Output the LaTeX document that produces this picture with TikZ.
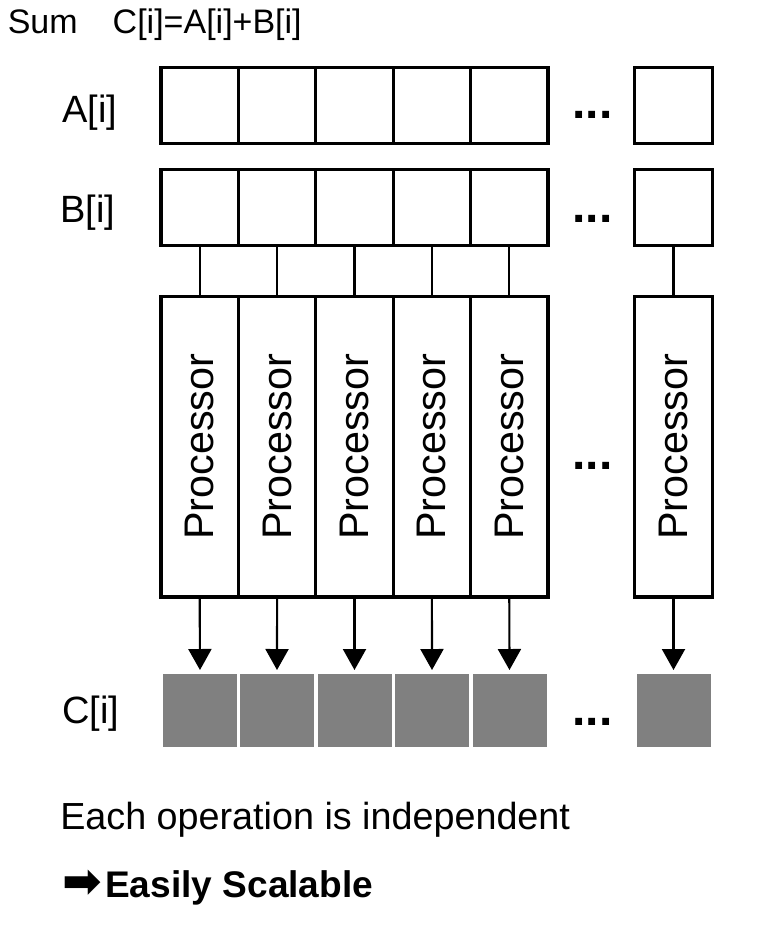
\documentclass[tikz,border=0pt]{standalone}
\usepackage{fontspec}
\setmainfont{Liberation Sans}
\newfontfamily\arrowfont{DejaVu Sans}
\usetikzlibrary{arrows.meta}

\begin{document}
\begin{tikzpicture}[x=0.75pt,y=0.75pt,yscale=-1,xscale=1,
		cell/.style={draw, line width=2.5pt, minimum width=58.05pt, minimum height=57pt, inner sep=0pt},
		proc/.style={cell, minimum height=225.4pt},
		ccell/.style={fill={rgb, 255:red, 128; green, 128; blue, 128 }, minimum width=55.5pt, minimum height=54.75pt, inner sep=0pt, outer sep=0pt},
		ptext/.style={rotate=90, inner sep=0pt, font=\fontsize{31}{36}\selectfont},
		wire/.style={line width=1.6pt},
		arr/.style={line width=1.6pt, -{Triangle[width=17.25pt,length=15.75pt]}, shorten >=3pt},
		lbl/.style={anchor=base west, inner sep=0pt, font=\fontsize{28.5}{34}\selectfont},
		dots/.style={anchor=base, inner sep=0pt, font=\fontsize{36}{44}\selectfont\bfseries}]
		\useasboundingbox (0,0) rectangle (758,932);
		\node [anchor=base west][inner sep=0pt][font=\fontsize{25.5}{30}\selectfont] (ttl) at (7.5,33) {Sum\hspace{26.3pt}C[i]=A[i]+B[i]};
		\node [lbl] (la) at (62,122) {A[i]};
		\node [lbl] (lb) at (60,222) {B[i]};
		\node [lbl] (lc) at (62,723) {C[i]};
		\node [cell] (a1) at (199.7,105.5) {};
		\node [cell] (a2) at (277.1,105.5) {};
		\node [cell] (a3) at (354.5,105.5) {};
		\node [cell] (a4) at (431.9,105.5) {};
		\node [cell] (a5) at (509.3,105.5) {};
		\node [cell] (an) at (673.5,105.5) {};
		\node [cell] (b1) at (199.7,207.5) {};
		\node [cell] (b2) at (277.1,207.5) {};
		\node [cell] (b3) at (354.5,207.5) {};
		\node [cell] (b4) at (431.9,207.5) {};
		\node [cell] (b5) at (509.3,207.5) {};
		\node [cell] (bn) at (673.5,207.5) {};
		\node [proc] (p1) at (199.7,446.75) {};
		\node [proc] (p2) at (277.1,446.75) {};
		\node [proc] (p3) at (354.5,446.75) {};
		\node [proc] (p4) at (431.9,446.75) {};
		\node [proc] (p5) at (509.3,446.75) {};
		\node [proc] (pn) at (673.5,446.75) {};
		\node [ptext] (pt1) at (p1) {Processor};
		\node [ptext] (pt2) at (p2) {Processor};
		\node [ptext] (pt3) at (p3) {Processor};
		\node [ptext] (pt4) at (p4) {Processor};
		\node [ptext] (pt5) at (p5) {Processor};
		\node [ptext] (ptn) at (pn) {Processor};
		\node [ccell] (c1) at (200,710.5) {};
		\node [ccell] (c2) at (277,710.5) {};
		\node [ccell] (c3) at (354.5,710.5) {};
		\node [ccell] (c4) at (432,710.5) {};
		\node [ccell] (c5) at (509.5,710.5) {};
		\node [ccell] (cn) at (673.5,710.5) {};
		\draw [wire] (b1.south) -- (p1.north);
		\draw [wire] (b2.south) -- (p2.north);
		\draw [wire] (b3.south) -- (p3.north);
		\draw [wire] (b4.south) -- (p4.north);
		\draw [wire] (b5.south) -- (p5.north);
		\draw [wire] (bn.south) -- (pn.north);
		\draw [arr] (p1.south) -- (c1.north);
		\draw [arr] (p2.south) -- (c2.north);
		\draw [arr] (p3.south) -- (c3.north);
		\draw [arr] (p4.south) -- (c4.north);
		\draw [arr] (p5.south) -- (c5.north);
		\draw [arr] (pn.south) -- (cn.north);
		\node [dots] (da) at (592.5,118) {...};
		\node [dots] (db) at (592.5,222) {...};
		\node [dots] (dp) at (592.5,469) {...};
		\node [dots] (dc) at (592.5,725) {...};
		\node [lbl][font=\fontsize{28.3}{34}\selectfont] (note) at (60,829) {Each operation is independent};
		\node [lbl][font=\fontsize{27.8}{33}\selectfont\bfseries] (scal) at (62,897) {{\arrowfont\fontsize{35.5}{40}\selectfont ➡}\hspace{2.5pt}Easily Scalable};
		\end{tikzpicture}
\end{document}
